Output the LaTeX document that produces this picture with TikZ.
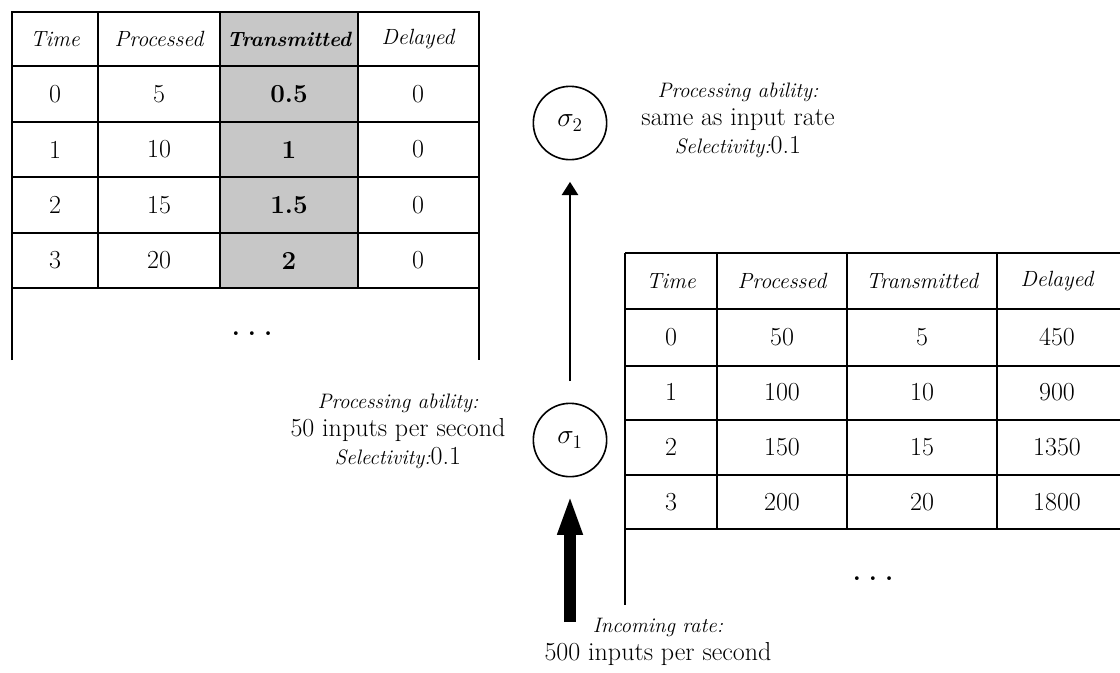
\documentclass[tikz,border=0pt]{standalone}
\usetikzlibrary{arrows.meta}
\definecolor{shadegray}{gray}{0.78}
\newcommand{\labit}[1]{{\fontsize{15.7}{21}\selectfont\itshape #1}}

\begin{document}
\begin{tikzpicture}[x=0.75pt,y=-0.75pt,
  tabline/.style={line width=1.8pt},
  colhead/.style={font=\fontsize{16.5}{18}\selectfont\itshape},
  cell/.style={font=\fontsize{19.5}{22}\selectfont},
  op node/.style={circle,draw,line width=1.2pt,minimum size=55pt,inner sep=0pt,font=\fontsize{22}{24}\selectfont},
  remark/.style={align=center,font=\fontsize{19.5}{21}\selectfont}]

  \useasboundingbox (0,0) rectangle (1120,672);

  % left table (sigma2)
  \fill[shadegray] (220,12) rectangle (358,288);
  \foreach \y in {66,122,177,233,288} \draw[tabline] (12,\y) -- (479,\y);
  \foreach \x in {98,220,358} \draw[tabline] (\x,12) -- (\x,288);
  \draw[tabline] (12,360) -- (12,12) -- (479,12) -- (479,360);

  \node[colhead] (lt-time) at (55,39) {Time};
  \node[colhead] (lt-proc) at (159,39) {Processed};
  \node[colhead,font=\fontsize{15.5}{18}\selectfont\bfseries\itshape] (lt-trans) at (289,39) {Transmitted};
  \node[colhead] (lt-del) at (418,39) {Delayed};
  \foreach \t/\p/\m/\d [count=\r] in {0/5/0.5/0, 1/10/1/0, 2/15/1.5/0, 3/20/2/0} {
    \node[cell] (lt-\r-1) at (55,{94+55.5*(\r-1)}) {\t};
    \node[cell] (lt-\r-2) at (159,{94+55.5*(\r-1)}) {\p};
    \node[cell,font=\fontsize{19.5}{22}\selectfont\bfseries] (lt-\r-3) at (289,{94+55.5*(\r-1)}) {\m};
    \node[cell] (lt-\r-4) at (418,{94+55.5*(\r-1)}) {\d};
  }
  \node[cell] (lt-more) at (252,334) {\textbf{.\hspace{6pt}.\hspace{6pt}.}};

  % right table (sigma1)
  \foreach \y in {253,309,366,420,475,529} \draw[tabline] (625,\y) -- (1120,\y);
  \foreach \x in {717,847,997} \draw[tabline] (\x,253) -- (\x,529);
  \draw[tabline] (625,253) -- (625,605);

  \node[colhead] (rt-time) at (671,281) {Time};
  \node[colhead] (rt-proc) at (782,281) {Processed};
  \node[colhead] (rt-trans) at (922,281) {Transmitted};
  \node[colhead] (rt-del) at (1057,281) {Delayed};
  \foreach \t/\p/\m/\d [count=\r] in {0/50/5/450, 1/100/10/900, 2/150/15/1350, 3/200/20/1800} {
    \node[cell] (rt-\r-1) at (671,{337+55*(\r-1)}) {\t};
    \node[cell] (rt-\r-2) at (782,{337+55*(\r-1)}) {\p};
    \node[cell] (rt-\r-3) at (922,{337+55*(\r-1)}) {\m};
    \node[cell] (rt-\r-4) at (1057,{337+55*(\r-1)}) {\d};
  }
  \node[cell] (rt-more) at (873,579) {\textbf{.\hspace{6pt}.\hspace{6pt}.}};

  % operators
  \node[op node] (s2) at (570,123) {$\sigma_2$};
  \node[op node] (s1) at (570,440) {$\sigma_1$};
  \coordinate (src) at (570,622);

  \node[remark] (s2-note) at (738,120) {\labit{Processing ability:}\\same as input rate\\\labit{Selectivity:}0.1};
  \node[remark] (s1-note) at (398,431) {\labit{Processing ability:}\\50 inputs per second\\\labit{Selectivity:}0.1};
  \node[remark] (src-note) at (658,642) {\labit{Incoming rate:}\\500 inputs per second};

  \draw[line width=2.2pt,-{Triangle[length=10pt,width=12pt]},shorten <=16pt,shorten >=16pt] (s1) -- (s2);
  \draw[line width=9pt,-{Triangle[length=30pt,width=17pt]},shorten >=13pt] (src) -- (s1);
\end{tikzpicture}
\end{document}
